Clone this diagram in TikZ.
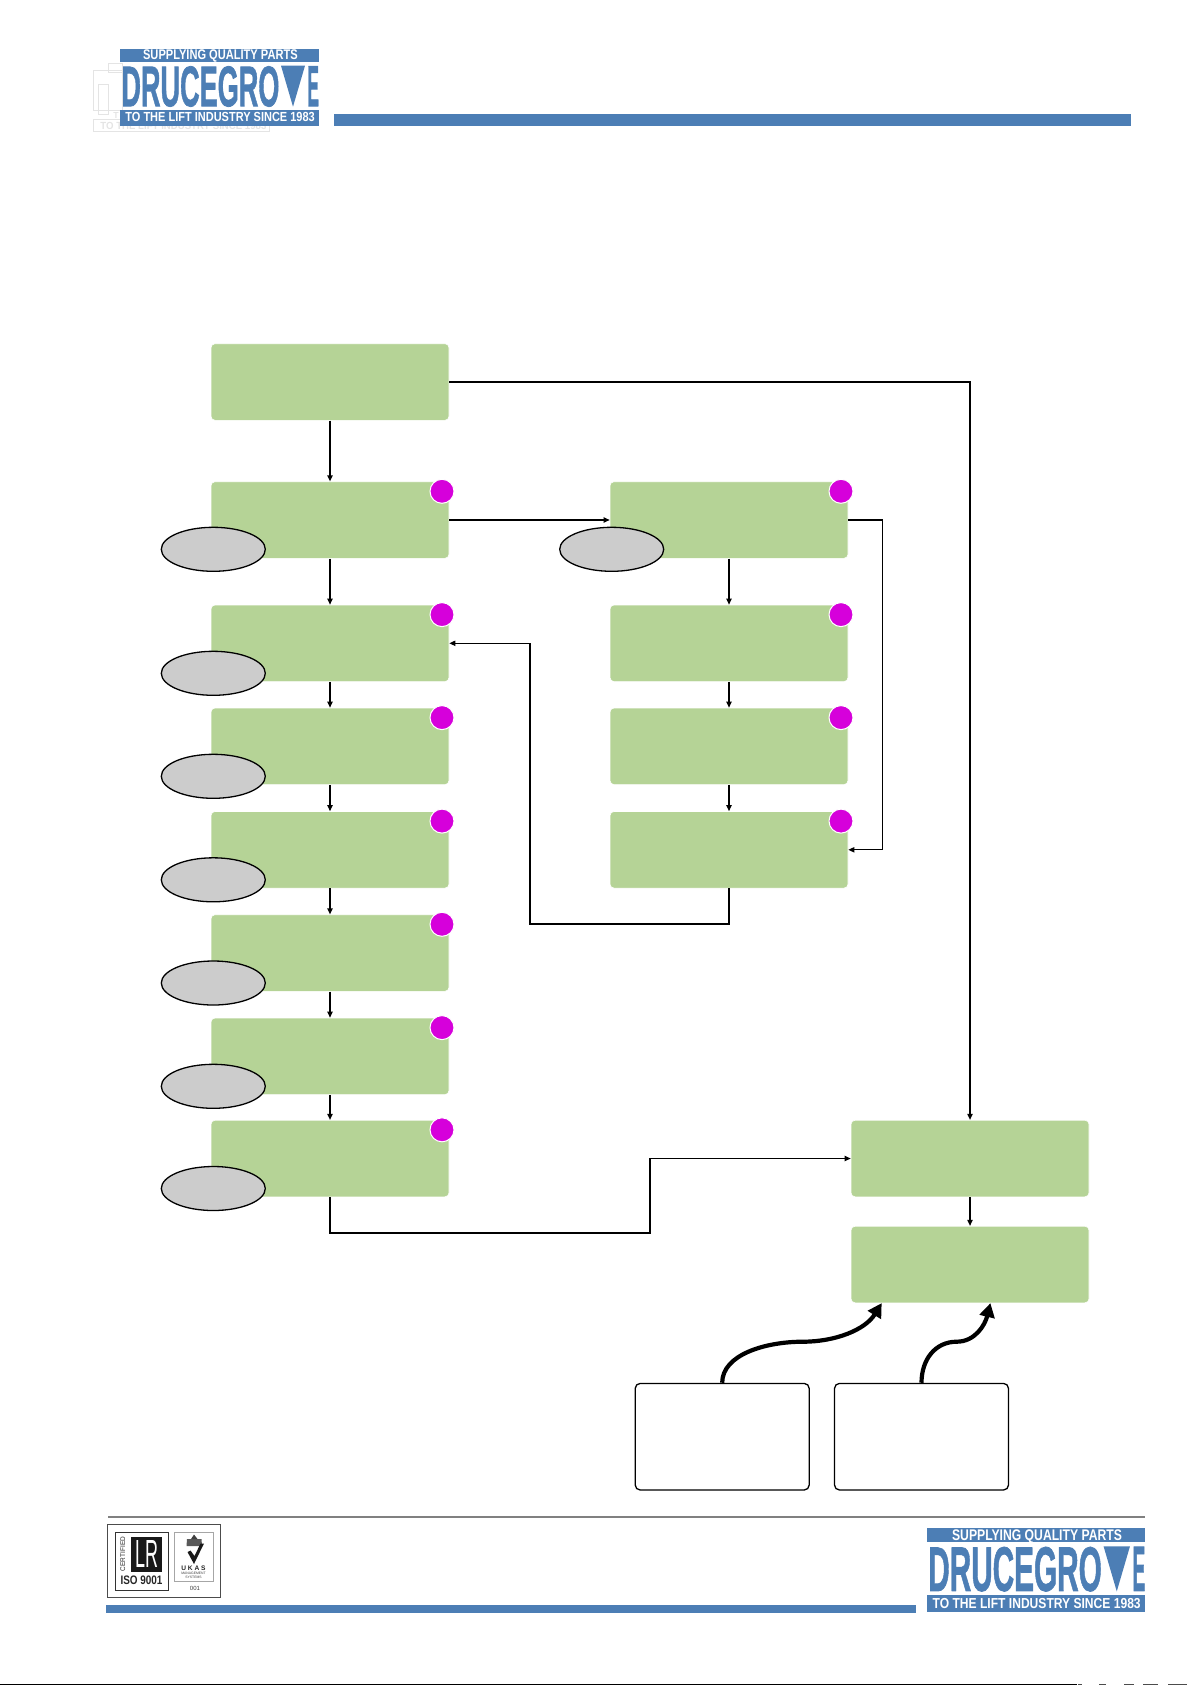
\documentclass[tikz,border=0pt]{standalone}
\usepackage{fontspec}
\usepackage{graphicx}
\setmainfont{Liberation Sans}
\newfontfamily\logoheavy[FakeBold=1.4]{Liberation Sans Bold}
\newfontfamily\logobold{Liberation Sans Bold}
\usetikzlibrary{arrows.meta,shapes.geometric,calc}
\definecolor{dgblue}{RGB}{76,126,181}
\definecolor{dggreen}{RGB}{181,211,150}
\definecolor{dgmag}{RGB}{214,0,219}
\definecolor{dggrey}{RGB}{204,204,204}
\definecolor{dgghost}{RGB}{228,228,228}
\tikzset{
  gbox/.style={rectangle,rounded corners=2pt,fill=dggreen,draw=white,line width=0.3pt,minimum width=119pt,minimum height=38.3pt,inner sep=0pt},
  wbox/.style={rectangle,rounded corners=2.5pt,fill=white,draw=black,line width=0.65pt,minimum width=87pt,minimum height=53.3pt,inner sep=0pt},
  oval/.style={ellipse,fill=dggrey,draw=black,line width=0.65pt,minimum width=52pt,minimum height=22pt,inner sep=0pt},
  badge/.style={circle,fill=dgmag,draw=white,line width=0.5pt,minimum size=12pt,inner sep=0pt},
  conn/.style={draw=black,line width=0.65pt,-{Triangle[length=3pt,width=2.6pt]}},
  feed/.style={draw=black,line width=2.1pt,-{Triangle[length=7pt,width=7.5pt]}},
  lgtext/.style={anchor=base west,inner sep=0pt,text=white,font=\logobold},
  drucelogo/.pic={
    \fill[dgblue] (0,0) rectangle (198.7,13);
    \fill[dgblue] (0,61) rectangle (198.7,76.7);
    \node[lgtext] (-a) at (22.7,11) {\resizebox{77.3pt}{4.9pt}{SUPPLYING QUALITY PARTS}};
    \node[lgtext] (-b) at (5,73) {\resizebox{94.7pt}{4.6pt}{TO THE LIFT INDUSTRY SINCE 1983}};
    \node[lgtext,text=dgblue,font=\logoheavy] (-c) at (1,57.2) {\resizebox{79pt}{20pt}{DRUCEGRO}};
    \fill[dgblue] (161,16.7) -- (185,16.7) -- (173,57.7) -- cycle;
    \node[lgtext,text=dgblue,font=\logoheavy] (-d) at (187,57.2) {\resizebox{5.8pt}{20pt}{E}};
  }
}
\begin{document}
\begin{tikzpicture}[x=0.5pt,y=-0.5pt]
\useasboundingbox (0,0) rectangle (1192,1685);
% ghost behind the top logo
\begin{scope}[draw=dgghost,line width=0.5pt]
  \draw (108.3,63.3) rectangle (122,73);
  \draw (93.3,70.7) rectangle (122,111);
  \draw (98.3,85) rectangle (108.3,115);
  \draw (93.3,120) rectangle (269,131.7);
\end{scope}
\node[anchor=base west,inner sep=0pt,text=dgghost,font=\logobold] (ghosttext) at (100,130) {\resizebox{83pt}{3.6pt}{TO THE LIFT INDUSTRY SINCE 1983}};
\node[anchor=base west,inner sep=0pt,text=dgghost,font=\logobold] (ghostt) at (113,119) {\resizebox{!}{3pt}{T}};
% top logo and bar
\pic (lgtop) at (120,49) {drucelogo};
\fill[dgblue] (334,114) rectangle (1131,126);
% green boxes, left column
\node[gbox] (b1) at (330,382) {};
\node[gbox] (b2) at (330,520) {};
\node[gbox] (b3) at (330,643.3) {};
\node[gbox] (b4) at (330,746.3) {};
\node[gbox] (b5) at (330,849.8) {};
\node[gbox] (b6) at (330,953) {};
\node[gbox] (b7) at (330,1056.3) {};
\node[gbox] (b8) at (330,1158.5) {};
% right column
\node[gbox] (r1) at (729,520) {};
\node[gbox] (r2) at (729,643.3) {};
\node[gbox] (r3) at (729,746.3) {};
\node[gbox] (r4) at (729,849.8) {};
% far right
\node[gbox] (f1) at (970,1158.5) {};
\node[gbox] (f2) at (970,1264.5) {};
% white boxes
\node[wbox] (w1) at (722.2,1436.7) {};
\node[wbox] (w2) at (921.5,1436.7) {};
% ovals
\foreach \n/\y in {o2/549.3,o3/673.3,o4/776.3,o5/879.8,o6/983,o7/1086.3,o8/1188.5}
  \node[oval] (\n) at (213.3,\y) {};
\node[oval] (o9) at (611.7,549.3) {};
% badges
\foreach \n/\x/\y in {c2/442/491.3,c3/442/614.6,c4/442/717.6,c5/442/821.1,c6/442/924.3,c7/442/1027.6,c8/442/1129.8,
  c9/841/491.3,c10/841/614.6,c11/841/717.6,c12/841/821.1}
  \node[badge] (\n) at (\x,\y) {};
% connectors
\draw[conn] (b1) -- (b2);
\draw[conn] (b2) -- (b3);
\draw[conn] (b3) -- (b4);
\draw[conn] (b4) -- (b5);
\draw[conn] (b5) -- (b6);
\draw[conn] (b6) -- (b7);
\draw[conn] (b7) -- (b8);
\draw[conn] (r1) -- (r2);
\draw[conn] (r2) -- (r3);
\draw[conn] (r3) -- (r4);
\draw[conn] (f1) -- (f2);
\draw[conn] (b2) -- (r1);
\draw[conn] (b1.east) -| (f1.north);
\draw[conn] (r1.east) -- ++(34.5,0) |- (r4.east);
\draw[conn] (r4.south) -- ++(0,35.7) -| (530,643.3) -- (b3.east);
\draw[conn] (b8.south) -- ++(0,36) -| (650,1158.5) -- (f1.west);
\draw[feed] (w1.north) .. controls ++(0,-28) and (765,1341.7) .. (803,1341.7)
   .. controls (835,1341.7) and (865,1330) .. ($(f2.south west)+(31,0)$);
\draw[feed] (w2.north) .. controls ++(0,-23) and (935,1341.7) .. (956.7,1341.7)
   .. controls (975,1341.7) and (985,1325) .. ($(f2.south west)+(139.7,0)$);
% footer
\draw[draw=gray,line width=0.6pt] (108,1517) -- (1145,1517);
\fill[dgblue] (106,1605) rectangle (916,1613);
\pic[scale=1.0986,transform shape] (lgbot) at (926.7,1528) {drucelogo};
% certification mark
\draw[draw=black!70,line width=0.6pt] (107.3,1524.3) rectangle (220.3,1597.7);
\draw[draw=black!80,line width=0.5pt] (115.3,1532) rectangle (168,1590);
\fill[black!90] (131,1537) rectangle (162.3,1571.5);
\node[inner sep=0pt,text=white] (lr) at (147,1554) {\resizebox{11.5pt}{13.5pt}{LR}};
\node[inner sep=0pt,rotate=90,text=black!85] (cert) at (122.7,1554) {\resizebox{17pt}{2.4pt}{CERTIFIED}};
\node[inner sep=0pt,font=\logobold,text=black!85] (iso) at (141.5,1580.5) {\resizebox{21pt}{4.3pt}{ISO 9001}};
\draw[draw=black!35,line width=0.4pt] (174,1532) rectangle (213,1581);
\fill[black!65] (187,1539) -- (201.5,1539) -- (202,1546) -- (186.5,1546) -- cycle;
\fill[black!75] (191,1539) -- (194,1534.5) -- (197.5,1539) -- cycle;
\fill[black!90] (187.5,1552) -- (190.5,1550.5) -- (194.5,1556) -- (200.5,1543.5) -- (204,1543.5) -- (194,1564) -- cycle;
\node[inner sep=0pt,font=\logobold\fontsize{3.3pt}{4pt}\selectfont,text=black!85] (ukas) at (193.5,1568) {U K A S};
\node[inner sep=0pt,align=center,font=\fontsize{1.7pt}{2pt}\selectfont,text=black!75] (ms) at (193.5,1575) {MANAGEMENT\\SYSTEMS};
\node[inner sep=0pt,font=\fontsize{3pt}{4pt}\selectfont,text=black!75] (num) at (195,1588) {001};
% page edge artefact
\draw[draw=black,line width=0.75pt] (0,1684.3) -- (1077,1684.3);
\foreach \a/\b in {1078/1082,1099/1106,1124/1134,1143/1158,1168/1187}
  \draw[draw=black!70,line width=0.75pt] (\a,1684.3) -- (\b,1684.3);
\end{tikzpicture}
\end{document}
